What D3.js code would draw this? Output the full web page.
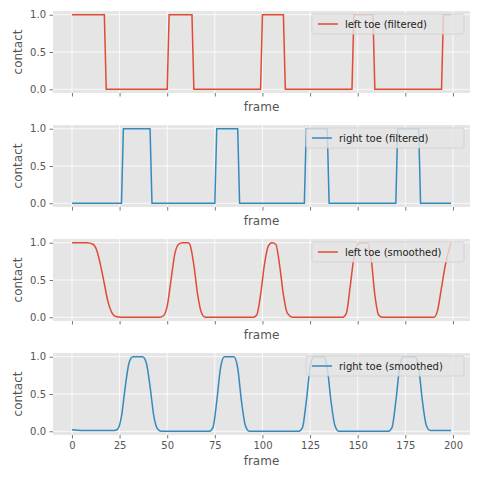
<!DOCTYPE html>
<html><head><meta charset="utf-8">
<script src="https://cdn.jsdelivr.net/npm/d3@7"></script>
<style>body{margin:0;background:#fff}text{font-family:"DejaVu Sans",sans-serif}</style>
</head><body><div id="box"></div>
<script>
// step series: [start, end] frames where contact = 1
const leftFilteredOn = [[0, 17], [51, 63], [100, 111], [148, 158], [195, 199]]
const rightFilteredOn = [[27, 41], [76, 87], [123, 134], [171, 182]]
// smoothed series: keypoints [frame, value]
const leftSmoothed = [[0,1],[8,1],[11,0.98],[13,0.9],[15,0.7],[17,0.45],[19,0.2],[21,0.06],[23,0.01],[26,0],
  [46,0],[48,0.02],[50,0.15],[52,0.5],[54,0.85],[56,0.98],[58,1],[61,1],[62,0.97],[64,0.7],[66,0.3],[68,0.06],[70,0],
  [95,0],[97,0.03],[99,0.3],[101,0.7],[103,0.95],[105,1],[107,0.98],[109,0.7],[111,0.3],[113,0.06],[116,0],
  [142,0],[144,0.05],[146,0.4],[148,0.8],[150,0.98],[152,1],[155,1],[157,0.8],[159,0.3],[161,0.03],[163,0],
  [190,0],[192,0.1],[194,0.4],[196,0.7],[199,1]]
const rightSmoothed = [[0,0.02],[5,0.01],[22,0.01],[24,0.03],[26,0.2],[28,0.6],[30,0.92],[32,1],[37,1],[39,0.92],[41,0.6],[43,0.2],[45,0.03],[47,0],
  [72,0],[74,0.05],[76,0.4],[78,0.85],[80,1],[85,1],[87,0.85],[89,0.4],[91,0.08],[93,0],
  [119,0],[121,0.05],[123,0.4],[125,0.85],[127,1],[132,1],[134,0.85],[136,0.4],[138,0.08],[140,0],
  [166,0],[168,0.05],[170,0.4],[172,0.85],[174,1],[180,1],[182,0.85],[184,0.4],[186,0.08],[188,0.01],[199,0.01]]
const xTicks = [0, 25, 50, 75, 100, 125, 150, 175, 200]
const yTicks = [0, 0.5, 1]
const nFrames = 200

function stepSeries(on) {
  const pts = []
  for (let f = 0; f < nFrames; f++) {
    pts.push([f, on.some(([a, b]) => f >= a && f <= b) ? 1 : 0])
  }
  return pts
}

const panels = [
  { name: 'left toe (filtered)', color: '#E24A33', data: stepSeries(leftFilteredOn), curve: d3.curveLinear },
  { name: 'right toe (filtered)', color: '#348ABD', data: stepSeries(rightFilteredOn), curve: d3.curveLinear },
  { name: 'left toe (smoothed)', color: '#E24A33', data: leftSmoothed, curve: d3.curveMonotoneX },
  { name: 'right toe (smoothed)', color: '#348ABD', data: rightSmoothed, curve: d3.curveMonotoneX },
]

const W = 480, H = 480
const left = 53, right = 470, ph = 82, tops = [11, 125, 239, 353]

const svg = d3.select('#box').append('svg').attr('width', W).attr('height', H)
const x = d3.scaleLinear().domain([-9.95, 208.95]).range([left, right])

panels.forEach((p, i) => {
  const y = d3.scaleLinear().domain([-0.05, 1.05]).range([tops[i] + ph, tops[i]])
  const g = svg.append('g')
  g.append('rect').attr('x', left).attr('y', tops[i]).attr('width', right - left).attr('height', ph).attr('fill', '#E5E5E5')
  g.selectAll('.gx').data(xTicks).join('line')
    .attr('x1', d => x(d)).attr('x2', d => x(d)).attr('y1', tops[i]).attr('y2', tops[i] + ph)
    .attr('stroke', '#fff').attr('stroke-width', 0.8)
  g.selectAll('.gy').data(yTicks).join('line')
    .attr('x1', left).attr('x2', right).attr('y1', d => y(d)).attr('y2', d => y(d))
    .attr('stroke', '#fff').attr('stroke-width', 0.8)

  const xa = g.append('g').attr('transform', `translate(0,${tops[i] + ph})`)
    .call(d3.axisBottom(x).tickValues(xTicks).tickSize(3.5).tickPadding(3.5)
      .tickFormat(i === 3 ? d3.format('d') : () => ''))
  const ya = g.append('g').attr('transform', `translate(${left},0)`)
    .call(d3.axisLeft(y).tickValues(yTicks).tickSize(3.5).tickPadding(3.5).tickFormat(d3.format('.1f')))
  ;[xa, ya].forEach(a => {
    a.select('.domain').remove()
    a.selectAll('line').attr('stroke', '#555').attr('stroke-width', 0.8)
    a.selectAll('text').attr('fill', '#555').attr('font-size', 10)
  })

  g.append('path').datum(p.data)
    .attr('d', d3.line().x(d => x(d[0])).y(d => y(d[1])).curve(p.curve))
    .attr('fill', 'none').attr('stroke', p.color).attr('stroke-width', 1.5)

  g.append('text').attr('x', (left + right) / 2).attr('y', tops[i] + ph + (i === 3 ? 30 : 18))
    .attr('text-anchor', 'middle').attr('font-size', 12).attr('fill', '#555').text('frame')
  g.append('text').attr('transform', `translate(22,${tops[i] + ph / 2}) rotate(-90)`)
    .attr('text-anchor', 'middle').attr('font-size', 12).attr('fill', '#555').text('contact')

  // legend
  const tw = p.name.length * 5.9
  const lx = right - 6 - (tw + 40), ly = tops[i] + 3
  const lg = g.append('g')
  lg.append('rect').attr('x', lx).attr('y', ly).attr('width', tw + 40).attr('height', 20)
    .attr('fill', '#E5E5E5').attr('fill-opacity', 0.8).attr('stroke', '#d0d0d0').attr('stroke-width', 0.8).attr('rx', 2)
  lg.append('line').attr('x1', lx + 6).attr('x2', lx + 26).attr('y1', ly + 10).attr('y2', ly + 10)
    .attr('stroke', p.color).attr('stroke-width', 1.5)
  lg.append('text').attr('x', lx + 33).attr('y', ly + 14).attr('font-size', 10).attr('fill', '#222').text(p.name)
})
</script></body></html>
